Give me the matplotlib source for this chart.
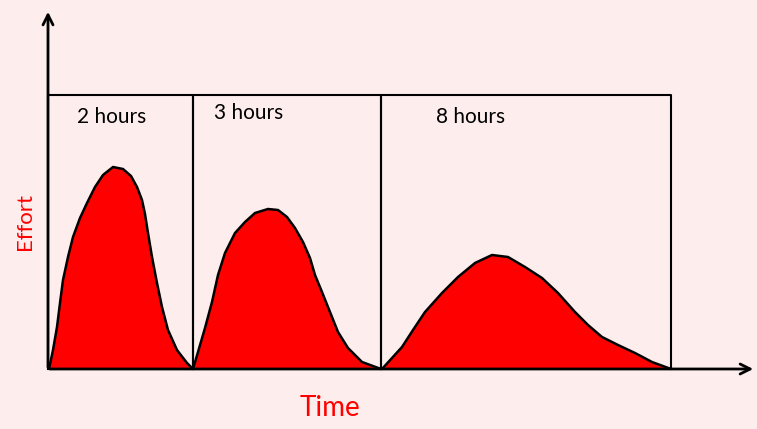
import matplotlib.pyplot as plt

# Time / effort units (origin at the axis corner)
session_edges = [0, 145, 333, 623]
session_labels = ["2 hours", "3 hours", "8 hours"]
box_top = 274

effort_curves = [
    ([1, 5, 9, 12, 15, 20, 25, 32, 39, 47, 55, 65, 75, 83, 89, 94, 97, 100,
      104, 109, 114, 120, 129, 139, 145],
     [0, 19, 42, 66, 89, 112, 132, 151, 166, 182, 194, 202, 200, 193, 182,
      169, 155, 136, 112, 86, 62, 39, 19, 6, 0]),
    ([145, 150, 157, 164, 170, 177, 187, 197, 207, 220, 230, 239, 247, 255,
      262, 267, 274, 282, 290, 300, 314, 333],
     [0, 17, 41, 67, 94, 116, 136, 147, 156, 160, 159, 152, 141, 127, 111,
      94, 77, 57, 37, 21, 7, 0]),
    ([334, 344, 354, 365, 377, 394, 410, 427, 444, 460, 477, 494, 510, 527,
      540, 554, 570, 587, 604, 623],
     [0, 11, 22, 39, 57, 76, 92, 106, 114, 112, 102, 91, 76, 57, 44, 32, 24,
      16, 7, 0]),
]

bg = '#fdeded'
fig = plt.figure(figsize=(7.57, 4.29), dpi=100, facecolor=bg)
ax = fig.add_axes([48 / 757, 60 / 429, 709 / 757, 369 / 429])
ax.set_facecolor(bg)
ax.set_xlim(0, 709)
ax.set_ylim(0, 369)
ax.axis('off')

# session boxes
for left, right in zip(session_edges[:-1], session_edges[1:]):
    ax.plot([left, left, right, right], [0, box_top, box_top, 0],
            color='black', lw=1.5, clip_on=False, zorder=2)

# effort humps
for xs, ys in effort_curves:
    ax.fill_between(xs, ys, 0, color='#ff0000', lw=0, zorder=3)
    ax.plot(xs, ys, color='black', lw=1.8, solid_joinstyle='round', zorder=4)

# axes with open arrow heads
ax.annotate('', xy=(0, 360), xytext=(0, -1),
            arrowprops=dict(arrowstyle='->', lw=2, color='black', mutation_scale=18))
ax.annotate('', xy=(708, 0), xytext=(-1, 0),
            arrowprops=dict(arrowstyle='->', lw=2, color='black', mutation_scale=18))

label_pos = [(64, 252), (201, 256), (423, 252)]
for (x, y), lab in zip(label_pos, session_labels):
    ax.text(x, y, lab, ha='center', va='center', fontsize=15, family='Lato')

ax.text(-23, 147, 'Effort', rotation=90, ha='center', va='center',
        color='#ff0000', fontsize=16, family='Lato', clip_on=False)
ax.text(282, -39, 'Time', ha='center', va='center',
        color='#ff0000', fontsize=20, family='Lato', clip_on=False)

fig.savefig('out.png', dpi=100, facecolor=bg)
